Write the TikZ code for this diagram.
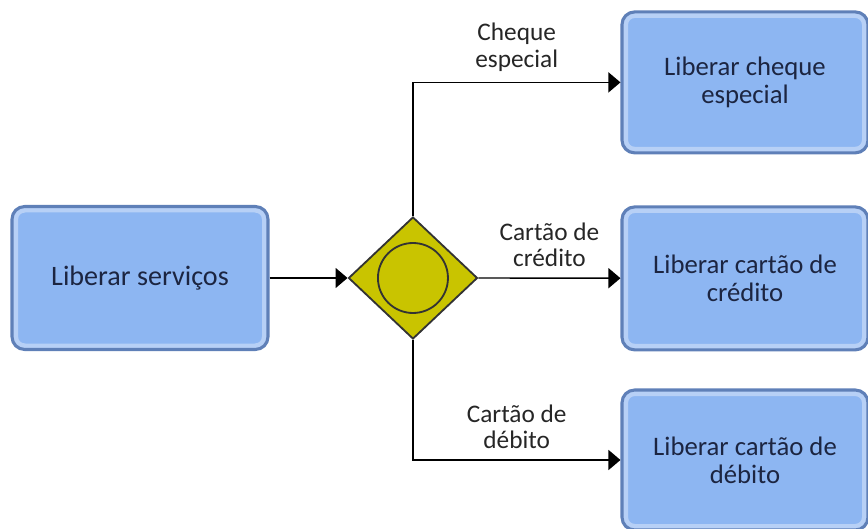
\documentclass[tikz,border=0pt]{standalone}
\usepackage{fontspec}
\setmainfont{Carlito}
\usepackage{tikz}
\usetikzlibrary{arrows.meta,positioning,shapes.geometric}
\definecolor{boxfill}{HTML}{8DB6F2}
\definecolor{boxband}{HTML}{B7D0F6}
\definecolor{boxline}{HTML}{5F80B8}
\definecolor{boxtext}{HTML}{1C2541}
\definecolor{gatefill}{HTML}{C9C400}
\tikzset{
task/.style={draw=boxline,fill=boxfill,line width=2.2pt,rounded corners=9pt,align=center,text=boxtext,font=\fontsize{19}{20}\selectfont,inner sep=0pt,
  path picture={\draw[boxband,line width=.3cm,rounded corners=9pt] (path picture bounding box.south west) rectangle (path picture bounding box.north east);}},
gate/.style={diamond,draw=black!80,fill=gatefill,line width=1.3pt,aspect=1.06,minimum width=3.225cm,minimum height=3.05cm,inner sep=0pt},
ring/.style={circle,draw=black!80,line width=1.3pt,minimum size=1.75cm,inner sep=0pt},
flowlabel/.style={align=center,font=\fontsize{18}{19}\selectfont,text=black!85},
arrow/.style={-{Triangle[length=.3cm,width=.5cm]},line width=1pt}
}
\begin{document}
\begin{tikzpicture}[node distance=1.95cm and 1.95cm]
\useasboundingbox (0,0) rectangle (21.7,-13.225);
\node[task,minimum width=6.4cm,minimum height=3.575cm,font=\fontsize{20}{21}\selectfont] (serv) at (3.5,-6.95) {Liberar serviços};
\node[gate,right=of serv] (g) {};
\node[ring] (r) at (g.center) {};
\node[task,minimum width=6.15cm,minimum height=3.525cm] (cheque) at (18.625,-2.06) {Liberar cheque\\especial};
\node[task,minimum width=6.15cm,minimum height=3.575cm] (credito) at (18.625,-6.96) {Liberar cartão de\\crédito};
\node[task,minimum width=6.15cm,minimum height=3.5cm] (debito) at (18.625,-11.5) {Liberar cartão de\\débito};

\draw[arrow] (serv) -- (g);
\draw[arrow] (g.north) |- node[flowlabel,pos=.75,above=4pt]{Cheque\\especial} (cheque.west);
\draw[arrow] (g.east) -- node[flowlabel,above=4pt]{Cartão de\\crédito} (credito);
\draw[arrow] (g.south) |- node[flowlabel,pos=.75,above=4pt]{Cartão de\\débito} (debito.west);
\end{tikzpicture}
\end{document}
